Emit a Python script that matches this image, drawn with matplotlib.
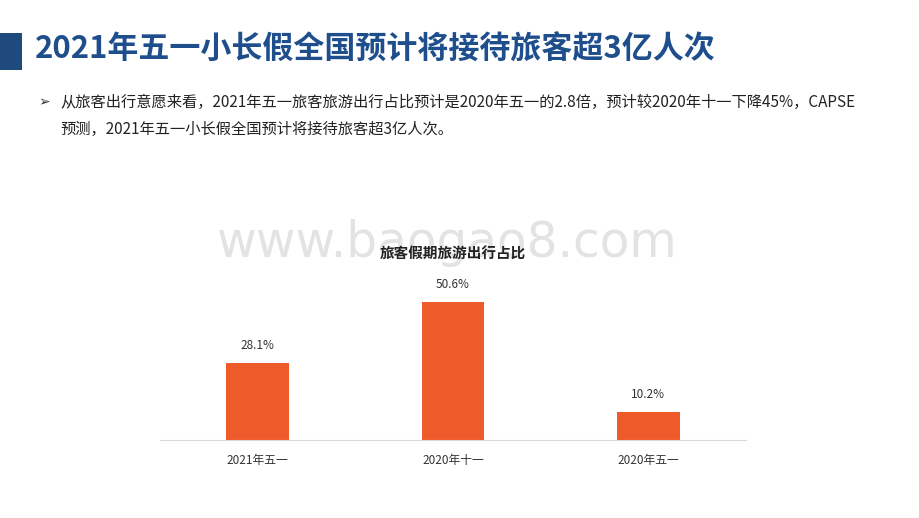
import matplotlib.pyplot as plt
from matplotlib.patches import Rectangle

plt.rcParams['font.family'] = ['Noto Sans CJK SC', 'DejaVu Sans']

# 데이터
categories = ['2021年五一', '2020年十一', '2020年五一']
values = [28.1, 50.6, 10.2]
labels = ['28.1%', '50.6%', '10.2%']

title = '2021年五一小长假全国预计将接待旅客超3亿人次'
bullet_1 = '从旅客出行意愿来看，2021年五一旅客旅游出行占比预计是2020年五一的2.8倍，预计较2020年十一下降45%，CAPSE'
bullet_2 = '预测，2021年五一小长假全国预计将接待旅客超3亿人次。'
chart_title = '旅客假期旅游出行占比'

W, H = 920, 518
fig = plt.figure(figsize=(W / 100, H / 100), dpi=100)

# 왼쪽 파란 블록 + 제목
fig.add_artist(Rectangle((0, 1 - 70 / H), 22 / W, 37 / H, transform=fig.transFigure,
                         color='#1F4A7E', lw=0))
fig.text(35 / W, 1 - 50 / H, title, fontsize=22.3, fontweight='bold', color='#1F4E8C',
         va='center', ha='left')

# 설명 문구
fig.text(38 / W, 1 - 102 / H, '➢', fontsize=10, color='#333333', va='center',
         family=['DejaVu Sans'])
fig.text(60 / W, 1 - 102 / H, bullet_1, fontsize=11, color='#222222', va='center')
fig.text(60 / W, 1 - 129 / H, bullet_2, fontsize=11, color='#222222', va='center')

# 워터마크
fig.text(447 / W, 1 - 243 / H, 'www.baogao8.com', fontsize=35, color='#E3E3E3',
         ha='center', va='center', family=['DejaVu Sans'], zorder=0)

# 막대 그래프
ax = fig.add_axes([160 / W, 1 - 440 / H, 586 / W, 164 / H])
ax.patch.set_alpha(0)
x = range(len(categories))
bars = ax.bar(x, values, width=0.32, color='#EF5A2B', zorder=2)
for b, lab in zip(bars, labels):
    ax.annotate(lab, (b.get_x() + b.get_width() / 2, b.get_height()),
                xytext=(0, 8), textcoords='offset points',
                ha='center', va='bottom', fontsize=8.5, color='#333333')

ax.set_xlim(-0.5, 2.5)
ax.set_ylim(0, 60)
ax.set_xticks(list(x))
ax.set_xticklabels(categories, fontsize=8.5, color='#333333')
ax.tick_params(axis='x', length=0, pad=10)
ax.set_yticks([])
for s in ['top', 'right', 'left']:
    ax.spines[s].set_visible(False)
ax.spines['bottom'].set_color('#D9D9D9')

fig.text(453 / W, 1 - 254 / H, chart_title, fontsize=10.5, fontweight='bold',
         color='#222222', ha='center', va='center')

fig.savefig('out.png', dpi=100)
